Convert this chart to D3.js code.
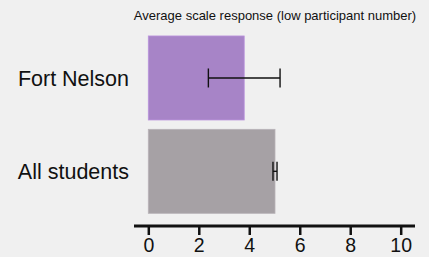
<!DOCTYPE html>
<html>
<head>
<meta charset="utf-8">
<script src="https://cdn.jsdelivr.net/npm/d3@7"></script>
<style>
  html, body { margin: 0; padding: 0; background: #f0f0f0; }
  svg { display: block; font-family: "Liberation Sans", Arial, sans-serif; }
</style>
</head>
<body>
<div id="chart"></div>
<script>
var categories = ["Fort Nelson", "All students"];
var means = [3.8, 5.02];
var errors = [1.42, 0.08];
var barColors = ["#a784c7", "#a6a1a5"];
var tickValues = [0, 2, 4, 6, 8, 10];
var title = "Average scale response (low participant number)";

var WIDTH = 429, HEIGHT = 257;

var svg = d3.select("#chart").append("svg")
    .attr("width", WIDTH)
    .attr("height", HEIGHT);

var x = d3.scaleLinear().domain([0, 10]).range([148.3, 400.7]);
var y = d3.scaleBand().domain(categories)
    .range([31.3, 218])
    .paddingInner(0.1)
    .paddingOuter(0.05);

// title
svg.append("text")
    .attr("x", 275)
    .attr("y", 20)
    .attr("text-anchor", "middle")
    .attr("font-size", "13px")
    .attr("fill", "#111")
    .text(title);

// bars
svg.selectAll("rect.bar")
    .data(categories)
    .enter().append("rect")
    .attr("class", "bar")
    .attr("x", x(0))
    .attr("y", function (d) { return y(d); })
    .attr("width", function (d, i) { return x(means[i]) - x(0); })
    .attr("height", y.bandwidth())
    .attr("fill", function (d, i) { return barColors[i]; })
    .attr("stroke", function (d, i) { return d3.color(barColors[i]).brighter(0.3); })
    .attr("stroke-width", 0.8);

// error bars
var err = svg.selectAll("g.err")
    .data(categories)
    .enter().append("g")
    .attr("class", "err")
    .attr("stroke", "#111")
    .attr("stroke-width", 1.4);

err.append("line")
    .attr("x1", function (d, i) { return x(means[i] - errors[i]); })
    .attr("x2", function (d, i) { return x(means[i] + errors[i]); })
    .attr("y1", function (d) { return y(d) + y.bandwidth() / 2; })
    .attr("y2", function (d) { return y(d) + y.bandwidth() / 2; });

[-1, 1].forEach(function (s) {
    err.append("line")
        .attr("x1", function (d, i) { return x(means[i] + s * errors[i]); })
        .attr("x2", function (d, i) { return x(means[i] + s * errors[i]); })
        .attr("y1", function (d) { return y(d) + y.bandwidth() / 2 - 9.5; })
        .attr("y2", function (d) { return y(d) + y.bandwidth() / 2 + 9.5; });
});

// category labels
svg.selectAll("text.cat")
    .data(categories)
    .enter().append("text")
    .attr("class", "cat")
    .attr("x", 129)
    .attr("y", function (d) { return y(d) + y.bandwidth() / 2; })
    .attr("dy", "0.36em")
    .attr("text-anchor", "end")
    .attr("font-size", "21.5px")
    .attr("fill", "#111")
    .text(function (d) { return d; });

// x axis
var axis = svg.append("g")
    .attr("transform", "translate(0,226)")
    .call(d3.axisBottom(x).tickValues(tickValues).tickSize(9).tickSizeOuter(0).tickPadding(3));

axis.select(".domain").remove();
axis.append("line")
    .attr("x1", 134).attr("x2", 415)
    .attr("stroke", "#111")
    .attr("stroke-width", 2.8);
axis.selectAll(".tick line")
    .attr("stroke", "#111")
    .attr("stroke-width", 2.5);
axis.selectAll(".tick text")
    .attr("font-size", "19.5px")
    .attr("font-family", "Liberation Sans, Arial, sans-serif")
    .attr("fill", "#111");
</script>
</body>
</html>
